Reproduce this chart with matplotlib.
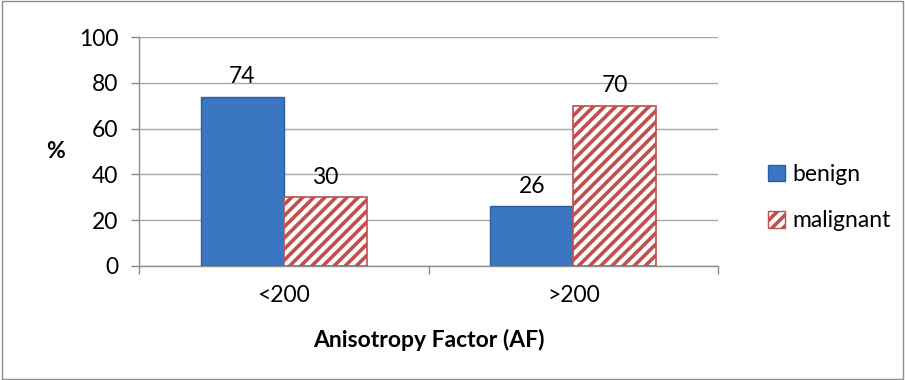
import matplotlib
matplotlib.use("Agg")
import matplotlib.pyplot as plt
from matplotlib.patches import Rectangle, Patch
import numpy as np

plt.rcParams['font.family'] = ['Lato', 'DejaVu Sans']
plt.rcParams['hatch.linewidth'] = 2.6

categories = ["<200", ">200"]
benign = [74, 26]
malignant = [30, 70]
series_names = ["benign", "malignant"]
y_ticks = [0, 20, 40, 60, 80, 100]

blue = "#3B76C3"
blue_edge = "#2D5E9E"
red = "#E06A6A"
red_edge = "#C0504D"
fs = 16.5

fig = plt.figure(figsize=(9.05, 3.80), dpi=100)
fig.patches.append(Rectangle((0.002, 0.003), 0.996, 0.994, transform=fig.transFigure,
                             fill=False, edgecolor="#8C8C8C", linewidth=1.0))

ax = fig.add_axes([0.1536, 0.30, 0.6398, 0.6026])
x = np.arange(len(categories))
w = 0.287

b1 = ax.bar(x - w / 2, benign, w, color=blue, edgecolor=blue_edge, linewidth=1.0, zorder=3)
plt.rcParams['hatch.color'] = red
b2 = ax.bar(x + w / 2, malignant, w, facecolor="white", edgecolor=red_edge, hatch="///",
            linewidth=1.2, zorder=3)

for bars, vals in ((b1, benign), (b2, malignant)):
    for bar, v in zip(bars, vals):
        ax.annotate(str(v), (bar.get_x() + bar.get_width() / 2, v),
                    xytext=(0, 7), textcoords="offset points",
                    ha="center", va="bottom", fontsize=fs)

ax.set_xlim(-0.5, len(categories) - 0.5)
ax.set_ylim(0, 100)
ax.set_yticks(y_ticks)
ax.set_yticklabels([str(t) for t in y_ticks], fontsize=fs)
ax.yaxis.grid(True, color="#A6A6A6", linewidth=1.0, zorder=0)
ax.set_axisbelow(True)

ax.set_xticks(x)
ax.set_xticklabels(categories, fontsize=fs)
ax.tick_params(axis="x", length=0, pad=14)
ax.set_xticks([-0.5, 0.5, 1.5], minor=True)
ax.tick_params(axis="x", which="minor", length=6, width=1, color="#8C8C8C", direction="out")
ax.tick_params(axis="y", length=6, width=1, color="#8C8C8C", direction="out", pad=9)

for s in ("top", "right"):
    ax.spines[s].set_visible(False)
for s in ("left", "bottom"):
    ax.spines[s].set_color("#8C8C8C")
    ax.spines[s].set_linewidth(1.0)

ax.set_xlabel("Anisotropy Factor (AF)", fontsize=fs, fontweight="bold", labelpad=16)
ax.set_ylabel("%", fontsize=fs, fontweight="bold", rotation=0, labelpad=17, va="center")

handles = [Patch(facecolor=blue, edgecolor=blue_edge),
           Patch(facecolor="white", edgecolor=red_edge, hatch="///")]
fig.legend(handles, series_names, loc="center left", bbox_to_anchor=(0.826, 0.48),
           frameon=False, fontsize=fs, handlelength=0.75, handleheight=0.75,
           handletextpad=0.3, labelspacing=1.1)

fig.savefig("out.png", dpi=100)
